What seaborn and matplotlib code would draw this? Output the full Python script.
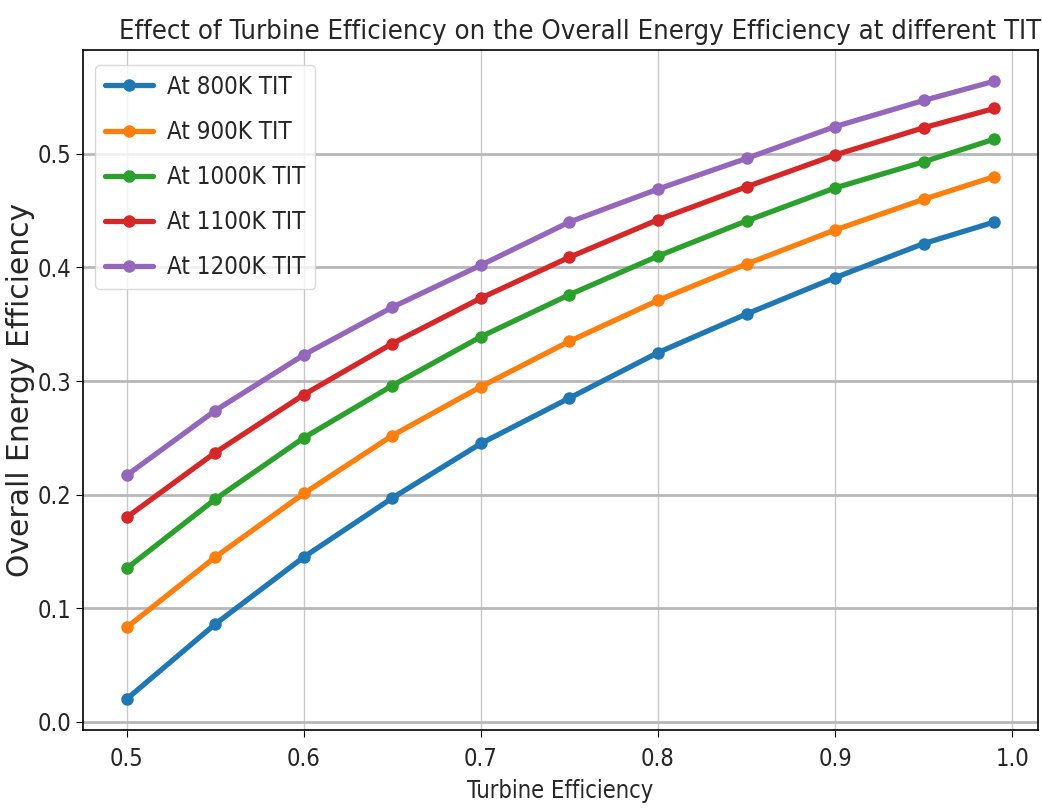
import matplotlib
matplotlib.use("Agg")
import matplotlib.pyplot as plt
import seaborn as sns
import pandas as pd

turbine_eff = [0.5, 0.55, 0.6, 0.65, 0.7, 0.75, 0.8, 0.85, 0.9, 0.95, 0.99]
eff_800 = [0.020, 0.086, 0.145, 0.197, 0.245, 0.285, 0.325, 0.359, 0.391, 0.421, 0.440]
eff_900 = [0.083, 0.145, 0.201, 0.252, 0.295, 0.335, 0.371, 0.403, 0.433, 0.460, 0.480]
eff_1000 = [0.135, 0.196, 0.250, 0.296, 0.339, 0.376, 0.410, 0.441, 0.470, 0.493, 0.513]
eff_1100 = [0.180, 0.237, 0.288, 0.333, 0.373, 0.409, 0.442, 0.471, 0.499, 0.523, 0.540]
eff_1200 = [0.217, 0.274, 0.323, 0.365, 0.402, 0.440, 0.469, 0.496, 0.524, 0.547, 0.564]
series_labels = ["At 800K TIT", "At 900K TIT", "At 1000K TIT", "At 1100K TIT", "At 1200K TIT"]
series_values = [eff_800, eff_900, eff_1000, eff_1100, eff_1200]

rows = []
for lab, vals in zip(series_labels, series_values):
    for x, y in zip(turbine_eff, vals):
        rows.append({"Turbine Efficiency": x, "Overall Energy Efficiency": y, "Series": lab})
df = pd.DataFrame(rows)

sns.set_style("ticks")
plt.rcParams['font.family'] = ['DejaVu Sans']
plt.rcParams['font.stretch'] = 'condensed'

fig, ax = plt.subplots(figsize=(10.42, 8.11), dpi=100)
fig.subplots_adjust(left=0.080, right=0.996, bottom=0.100, top=0.938)

sns.lineplot(data=df, x="Turbine Efficiency", y="Overall Energy Efficiency", hue="Series",
             hue_order=series_labels, palette="tab10", marker="o", markersize=9,
             markeredgewidth=0, linewidth=3.8, ax=ax)

ax.xaxis.grid(True, color="#c8c8c8", linewidth=1.0)
ax.yaxis.grid(True, color="#b8b8b8", linewidth=2.0)
ax.set_axisbelow(True)
for s in ax.spines.values():
    s.set_color("black")
    s.set_linewidth(1.2)

ax.tick_params(axis="both", labelsize=17, length=5, color="black")
ax.tick_params(axis="x", pad=7)
ax.set_xticks([0.5, 0.6, 0.7, 0.8, 0.9, 1.0])
ax.set_xlabel("Turbine Efficiency", fontsize=17, labelpad=6)
ax.set_ylabel("Overall Energy Efficiency", fontsize=21.5, fontstretch='normal', labelpad=2)
ax.set_title("Effect of Turbine Efficiency on the Overall Energy Efficiency at different TIT",
             fontsize=19.7, x=0.52, pad=8)

leg = ax.legend(loc="upper left", bbox_to_anchor=(12 / 955, 1 - 15 / 680), borderaxespad=0,
                fontsize=17.3, frameon=True, handlelength=2.0, handletextpad=0.6,
                borderpad=0.4, labelspacing=0.88)
leg.get_frame().set_edgecolor("#d0d0d0")

fig.savefig("out.png", dpi=100)
